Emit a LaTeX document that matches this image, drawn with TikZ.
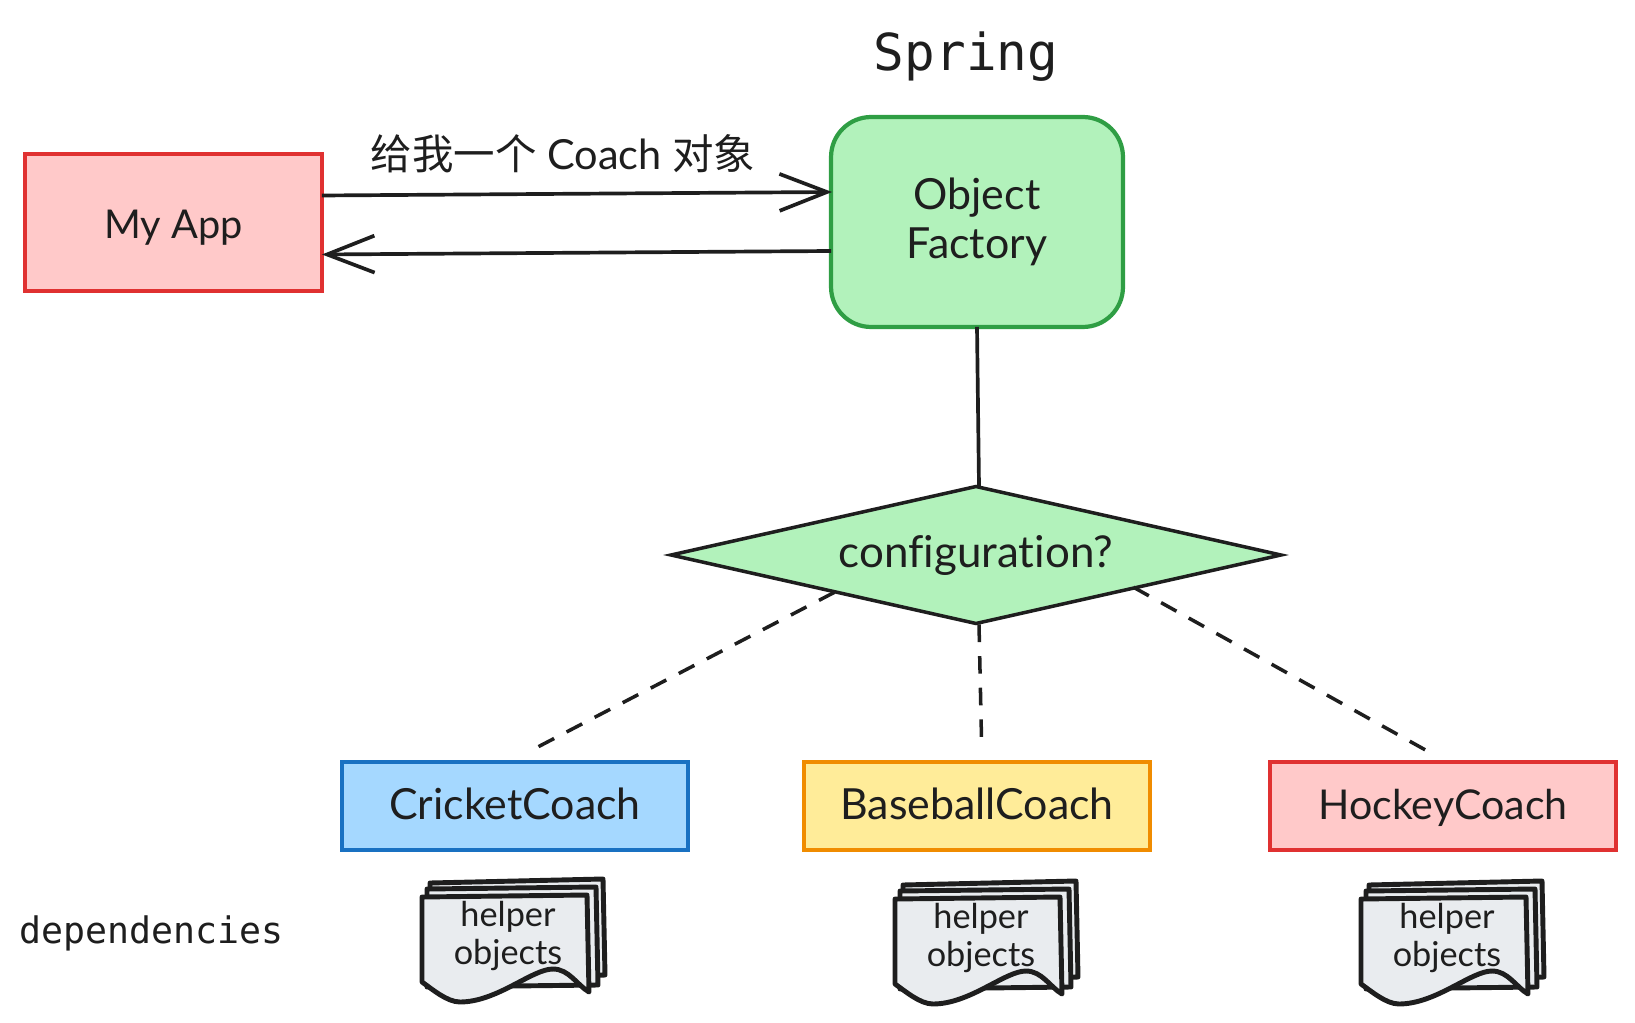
\documentclass[tikz,border=0pt]{standalone}
\usepackage{fontspec}
\setmainfont{Lato}[Ligatures={NoCommon}]
\newfontfamily\monofont{DejaVu Sans Mono}
\newfontfamily\cjkfont{Noto Sans CJK SC}
\usetikzlibrary{calc,arrows.meta,shapes.geometric}
\definecolor{inkc}{HTML}{1E1E1E}
\definecolor{redc}{HTML}{E03131}
\definecolor{redf}{HTML}{FFC9C9}
\definecolor{greenc}{HTML}{2F9E44}
\definecolor{greenf}{HTML}{B2F2BB}
\definecolor{bluec}{HTML}{1971C2}
\definecolor{bluef}{HTML}{A5D8FF}
\definecolor{yellowc}{HTML}{F08C00}
\definecolor{yellowf}{HTML}{FFEC99}
\definecolor{docf}{HTML}{E9ECEF}
\tikzset{
  sheet/.style={draw=inkc,fill=docf,line width=2.8pt,line join=round},
  helper doc/.pic={
    \draw[sheet] (8,-14) -- (181,-18) -- (183,78) -- (8,85) -- cycle;
    \draw[sheet] (5,-8) -- (174,-10) -- (176,88) -- (5,90) -- cycle;
    \draw[sheet] (0,0) -- (165,-2) -- (167,95) .. controls (155,88) and (147,72) .. (131,72) .. controls (110,72) and (75,105) .. (38,105) .. controls (25,105) and (10,92) .. (0,85) -- cycle;
    \node[font=\fontsize{19.5}{22}\selectfont,align=center,text=inkc] (-label) at (86,39) {helper\\objects};
  }
}
\begin{document}
\begin{tikzpicture}[x=0.02cm,y=-0.02cm,
    every node/.style={inner sep=0pt,outer sep=0pt,text=inkc},
    box/.style={draw,line width=2pt,align=center,minimum width=6.92cm,minimum height=1.76cm,font=\fontsize{24.4}{30}\selectfont},
    coach/.style={box,text height=20pt,text depth=5.2pt},
    link/.style={draw=inkc,line width=2.1pt,-{Straight Barb[length=27pt,width=21pt,line width=2.1pt]}},
    maybe/.style={draw=inkc,line width=2pt,dash pattern=on 10pt off 8pt}]
  \useasboundingbox (0,0) rectangle (1635,1023);

  \node[font=\monofont\fontsize{29}{35}\selectfont] (spring) at (966,57) {Spring};
  \node[box,draw=redc,fill=redf,minimum width=5.94cm,minimum height=2.74cm,font=\fontsize{22.6}{28}\selectfont,text height=24pt,text depth=6pt] (app) at (173.5,222.5) {My App};
  \node[box,draw=greenc,fill=greenf,line width=2.4pt,rounded corners=0.8cm,minimum width=5.84cm,minimum height=4.2cm,font=\fontsize{24.4}{28}\selectfont] (factory) at (977,222) {Object\\Factory};
  \node[font=\fontsize{23.6}{28}\selectfont] (request) at (563,154) {{\cjkfont 给我一个} Coach {\cjkfont 对象}};

  \node[diamond,draw=inkc,fill=greenf,line width=2pt,aspect=4.45,minimum width=12.2cm,minimum height=2.74cm,font=\fontsize{25}{30}\selectfont] (config) at (976,555) {configuration?};

  \node[coach,draw=bluec,fill=bluef] (cricket) at (515,806) {CricketCoach};
  \node[coach,draw=yellowc,fill=yellowf] (baseball) at (977,806) {BaseballCoach};
  \node[coach,draw=redc,fill=redf,font=\fontsize{23.4}{30}\selectfont] (hockey) at (1443,806) {HockeyCoach};

  \node[font=\monofont\fontsize{20.8}{25}\selectfont] (deps) at (152,933) {dependencies};
  \pic (cricketdoc) at (422,897) {helper doc};
  \pic (baseballdoc) at (895,899) {helper doc};
  \pic (hockeydoc) at (1361,899) {helper doc};

  \draw[link] ($ (app.east) + (0,-27) $) -- ($ (factory.west) + (1,-30) $);
  \draw[link] ($ (factory.west) + (0,29) $) -- ($ (app.east) + (0,32) $);
  \draw[draw=inkc,line width=2.1pt] (factory.south) -- ($ (config.north) + (3,0) $);

  \draw[maybe,shorten >=12pt] ($ (config.south west) + (11,3) $) -- ($ (cricket.north) + (-6,0) $);
  \draw[maybe,shorten >=7.5pt] ($ (config.south) + (3,1) $) -- ($ (baseball.north) + (5,0) $);
  \draw[maybe,shorten >=9.5pt] ($ (config.south east) + (5,-2) $) -- ($ (hockey.north) + (4,0) $);
\end{tikzpicture}
\end{document}
